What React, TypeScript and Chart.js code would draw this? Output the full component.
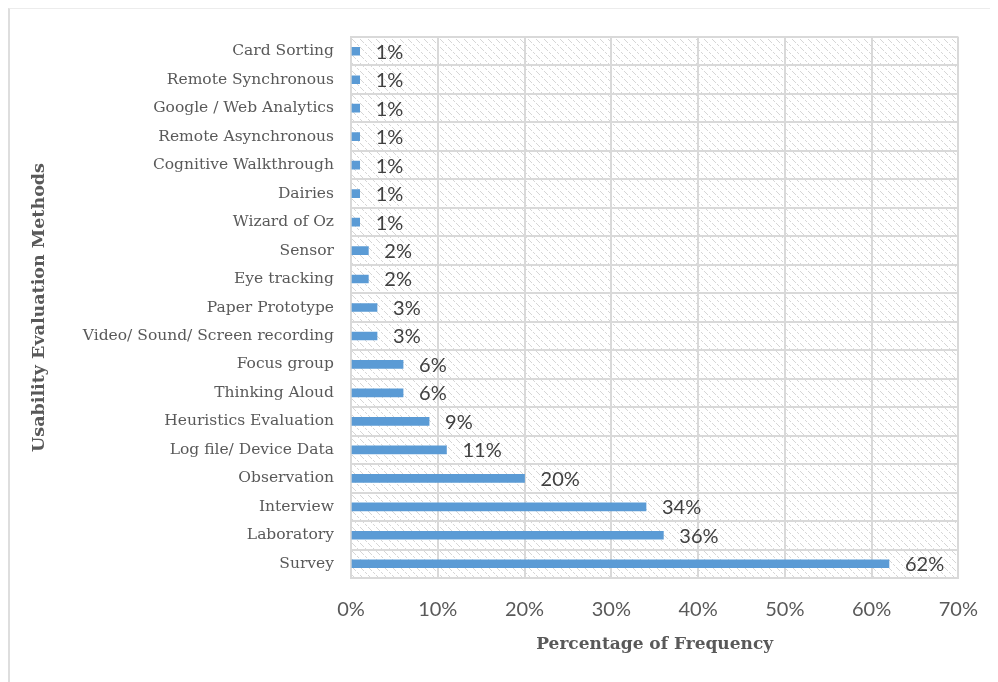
import React, { useEffect, useRef } from "react";
import { Chart, registerables } from "chart.js";

Chart.register(...registerables);

const categories = [
  "Card Sorting",
  "Remote Synchronous",
  "Google / Web Analytics",
  "Remote Asynchronous",
  "Cognitive Walkthrough",
  "Dairies",
  "Wizard of Oz",
  "Sensor",
  "Eye tracking",
  "Paper Prototype",
  "Video/ Sound/ Screen recording",
  "Focus group",
  "Thinking Aloud",
  "Heuristics Evaluation",
  "Log file/ Device Data",
  "Observation",
  "Interview",
  "Laboratory",
  "Survey",
];

const percentages = [1, 1, 1, 1, 1, 1, 1, 2, 2, 3, 3, 6, 6, 9, 11, 20, 34, 36, 62];

const xTicks = [0, 10, 20, 30, 40, 50, 60, 70];

const SERIF = "'DejaVu Serif', serif";
const SANS = "Lato, 'Open Sans', sans-serif";

function makePattern(ctx: CanvasRenderingContext2D) {
  const c = document.createElement("canvas");
  c.width = 8;
  c.height = 8;
  const p = c.getContext("2d")!;
  p.fillStyle = "#ffffff";
  p.fillRect(0, 0, 8, 8);
  p.fillStyle = "#d6d6d6";
  for (let i = 0; i < 8; i++) {
    if (i % 3 !== 2) p.fillRect(i, i, 1, 1);
  }
  return ctx.createPattern(c, "repeat");
}

const hatchPlugin = {
  id: "hatchBg",
  beforeDraw(chart: any) {
    const { ctx, chartArea } = chart;
    const pat = makePattern(ctx);
    if (!pat) return;
    ctx.save();
    ctx.fillStyle = pat;
    ctx.fillRect(chartArea.left, chartArea.top, chartArea.right - chartArea.left, chartArea.bottom - chartArea.top);
    ctx.restore();
  },
};

const valueLabelPlugin = {
  id: "valueLabels",
  afterDatasetsDraw(chart: any) {
    const { ctx } = chart;
    const meta = chart.getDatasetMeta(0);
    ctx.save();
    ctx.font = `20px ${SANS}`;
    ctx.fillStyle = "#404040";
    ctx.textAlign = "left";
    ctx.textBaseline = "middle";
    meta.data.forEach((bar: any, i: number) => {
      ctx.fillText(`${percentages[i]}%`, bar.x + 16, bar.y + 1);
    });
    ctx.restore();
  },
};

export default function App() {
  const ref = useRef<HTMLCanvasElement>(null);

  useEffect(() => {
    if (!ref.current) return;
    const chart = new Chart(ref.current, {
      type: "bar",
      data: {
        labels: categories,
        datasets: [
          {
            data: percentages,
            backgroundColor: "#5b9bd5",
            barThickness: 8,
          },
        ],
      },
      options: {
        indexAxis: "y",
        responsive: false,
        animation: false,
        layout: { padding: { top: 28, right: 38, left: 0, bottom: 0 } },
        plugins: {
          legend: { display: false },
          tooltip: { enabled: false },
        },
        scales: {
          x: {
            min: 0,
            max: 70,
            afterBuildTicks(scale: any) {
              scale.ticks = xTicks.map((v) => ({ value: v }));
            },
            afterFit(scale: any) {
              scale.height = 104;
            },
            grid: { color: "#d9d9d9", lineWidth: 2, drawTicks: false },
            border: { color: "#d9d9d9", width: 2 },
            ticks: {
              padding: 20,
              color: "#595959",
              font: { family: SANS, size: 20 },
              callback: (v: any) => `${v}%`,
            },
            title: {
              display: true,
              text: "Percentage of Frequency",
              color: "#595959",
              font: { family: SERIF, size: 17, weight: "bold" },
              padding: { top: 0, bottom: 27 },
            },
          },
          y: {
            afterFit(scale: any) {
              scale.width = 341;
            },
            grid: { color: "#d9d9d9", lineWidth: 2, drawTicks: false },
            border: { color: "#d9d9d9", width: 2 },
            ticks: {
              padding: 17,
              color: "#595959",
              font: { family: SERIF, size: 15.5 },
              autoSkip: false,
            },
            title: {
              display: true,
              text: "Usability Evaluation Methods",
              color: "#595959",
              font: { family: SERIF, size: 17.5, weight: "bold" },
              padding: { top: 19, bottom: 0 },
            },
          },
        },
      },
      plugins: [hatchPlugin, valueLabelPlugin],
    });
    return () => chart.destroy();
  }, []);

  return (
    <div
      style={{
        position: "relative",
        width: 990,
        height: 674,
        borderTop: "1px solid #ececec",
        borderLeft: "2px solid #dedede",
        boxSizing: "border-box",
        background: "#ffffff",
      }}
    >
      <canvas ref={ref} width={988} height={673} style={{ display: "block" }} />
    </div>
  );
}
